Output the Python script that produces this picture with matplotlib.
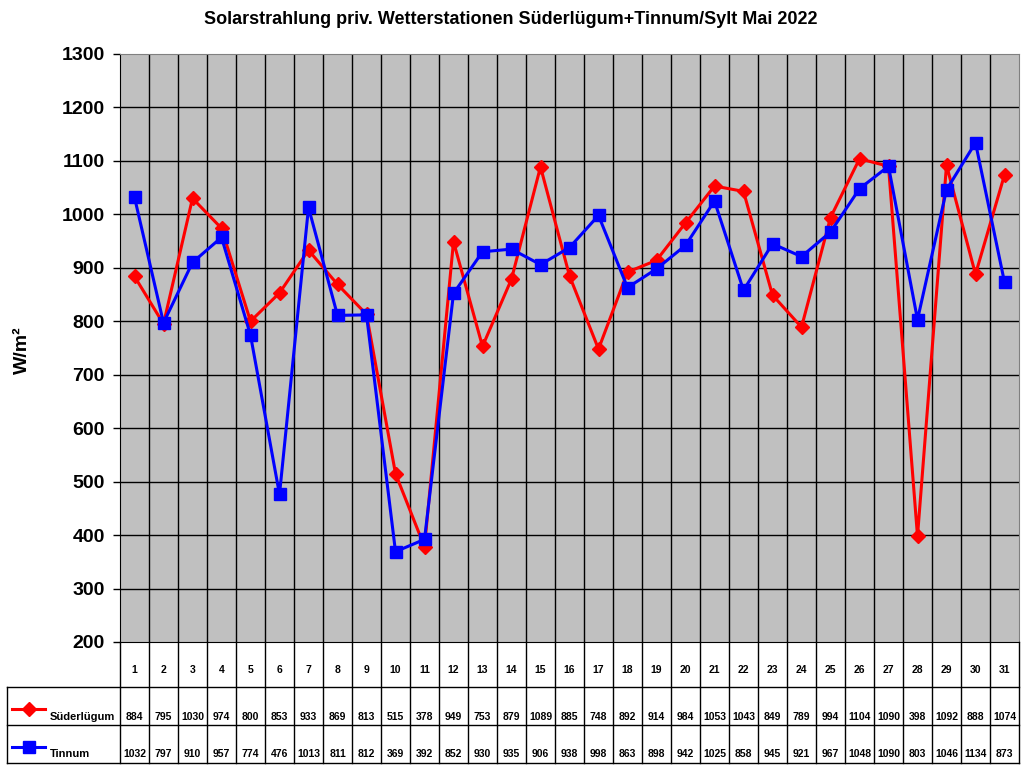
import numpy as np
import matplotlib.pyplot as plt
from matplotlib.lines import Line2D

# Daten Mai 2022
tage = list(range(1, 32))
suederluegum = [884, 795, 1030, 974, 800, 853, 933, 869, 813, 515, 378, 949, 753, 879, 1089,
                885, 748, 892, 914, 984, 1053, 1043, 849, 789, 994, 1104, 1090, 398, 1092, 888, 1074]
tinnum = [1032, 797, 910, 957, 774, 476, 1013, 811, 812, 369, 392, 852, 930, 935, 906,
          938, 998, 863, 898, 942, 1025, 858, 945, 921, 967, 1048, 1090, 803, 1046, 1134, 873]
namen = ['Süderlügum', 'Tinnum']
farben = ['#ff0000', '#0000ff']
marker = ['D', 's']

plt.rcParams['font.family'] = ['Liberation Sans', 'DejaVu Sans']
plt.rcParams['font.weight'] = 'bold'

W, H = 1024, 768
fig = plt.figure(figsize=(W / 100, H / 100), dpi=100)

def fx(x):
    return x / W

def fy(y):
    return 1 - y / H

# Plotbereich in Pixeln
L, R, T, B = 120, 1019, 54, 642
ax = fig.add_axes([fx(L), fy(B), fx(R) - fx(L), fy(T) - fy(B)])
ax.set_facecolor('#c0c0c0')
ax.set_xlim(0.5, 31.5)
ax.set_ylim(200, 1300)
ax.set_yticks(range(200, 1301, 100))
ax.set_xticks([])
for v in range(300, 1300, 100):
    ax.axhline(v, color='black', lw=1, zorder=1)
for i in range(1, 31):
    ax.axvline(i + 0.5, color='black', lw=1, zorder=1)
for s in ax.spines.values():
    s.set_color('#808080')
ax.spines['left'].set_color('black')
ax.spines['bottom'].set_color('black')
ax.tick_params(axis='y', labelsize=14, length=5, width=1, pad=6)
for t in ax.get_yticklabels():
    t.set_fontweight('bold')

ax.plot(tage, suederluegum, color=farben[0], lw=2.2, marker=marker[0], ms=7, zorder=3)
ax.plot(tage, tinnum, color=farben[1], lw=2.2, marker=marker[1], ms=9, zorder=4)

fig.text(fx(511), fy(20), 'Solarstrahlung priv. Wetterstationen Süderlügum+Tinnum/Sylt Mai 2022',
         ha='center', va='center', fontsize=13, fontweight='bold')
fig.text(fx(22), fy(350), 'W/m²', rotation=90, ha='center', va='center',
         fontsize=14, fontweight='bold')

# Datentabelle unter dem Diagramm
r1, r2, r3 = 687, 725, 763
tl = 7
col = lambda i: L + (R - L) * (i - 0.5) / 31.0

def linie(x0, y0, x1, y1):
    fig.add_artist(Line2D([fx(x0), fx(x1)], [fy(y0), fy(y1)], color='black', lw=1))

linie(L, B, L, r3)
linie(R, B, R, r3)
linie(tl, r1, R, r1)
linie(tl, r2, R, r2)
linie(tl, r3, R, r3)
linie(tl, r1, tl, r3)
for i in range(1, 31):
    xb = L + (R - L) * i / 31.0
    linie(xb, B, xb, r3)

for i, d in enumerate(tage):
    fig.text(fx(col(i + 1)), fy(670), str(d), ha='center', va='center', fontsize=7.5, fontweight='bold')
    fig.text(fx(col(i + 1)), fy(717), str(suederluegum[i]), ha='center', va='center',
             fontsize=7.5, fontweight='bold')
    fig.text(fx(col(i + 1)), fy(754), str(tinnum[i]), ha='center', va='center',
             fontsize=7.5, fontweight='bold')

for k, (name, yl, yt) in enumerate([(namen[0], 709, 717), (namen[1], 747, 754)]):
    fig.add_artist(Line2D([fx(12), fx(45)], [fy(yl), fy(yl)], color=farben[k], lw=2.2))
    fig.add_artist(Line2D([fx(28.5)], [fy(yl)], color=farben[k], marker=marker[k],
                          ms=7 if k == 0 else 9, lw=0))
    fig.text(fx(50), fy(yt), name, ha='left', va='center', fontsize=8, fontweight='bold')

fig.savefig('out.png', dpi=100)
